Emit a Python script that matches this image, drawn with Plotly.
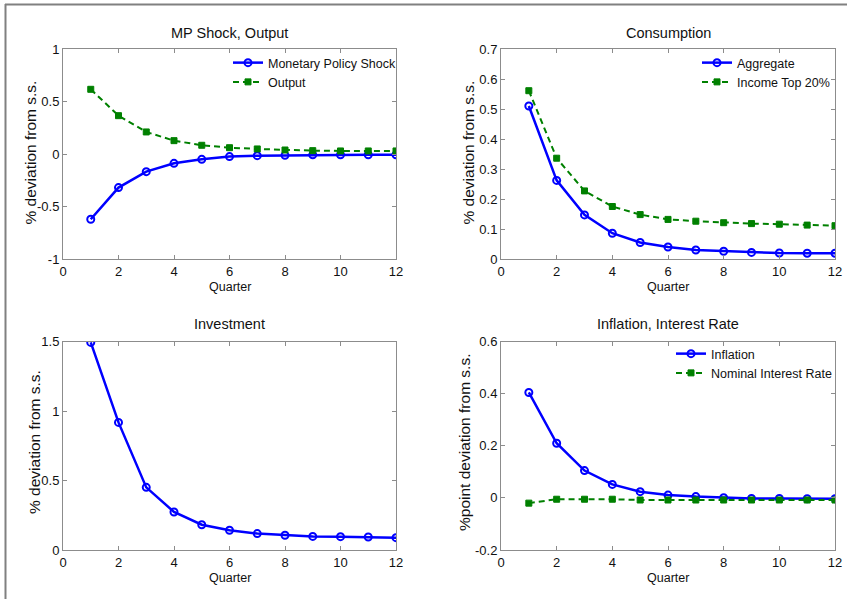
import plotly.graph_objects as go

quarters = list(range(1, 13))

mp_shock = [-0.619, -0.317, -0.165, -0.086, -0.048, -0.022, -0.013, -0.010, -0.005, -0.004, -0.004, -0.004]
output = [0.619, 0.368, 0.213, 0.130, 0.086, 0.063, 0.051, 0.041, 0.035, 0.032, 0.032, 0.032]

cons_agg = [0.511, 0.263, 0.148, 0.087, 0.056, 0.041, 0.031, 0.027, 0.023, 0.021, 0.020, 0.020]
cons_top20 = [0.562, 0.337, 0.228, 0.176, 0.149, 0.133, 0.127, 0.122, 0.119, 0.117, 0.114, 0.112]

investment = [1.495, 0.919, 0.451, 0.274, 0.182, 0.142, 0.118, 0.106, 0.098, 0.096, 0.094, 0.089]

inflation = [0.405, 0.210, 0.105, 0.052, 0.024, 0.011, 0.005, 0.001, -0.002, -0.002, -0.003, -0.003]
interest = [-0.020, -0.005, -0.005, -0.005, -0.008, -0.008, -0.008, -0.008, -0.008, -0.008, -0.008, -0.008]

x_ticks = [0, 2, 4, 6, 8, 10, 12]
y1_ticks = [-1, -0.5, 0, 0.5, 1]
y1_labels = ["-1", "-0.5", "0", "0.5", "1"]
y2_ticks = [0, 0.1, 0.2, 0.3, 0.4, 0.5, 0.6, 0.7]
y2_labels = ["0", "0.1", "0.2", "0.3", "0.4", "0.5", "0.6", "0.7"]
y3_ticks = [0, 0.5, 1, 1.5]
y3_labels = ["0", "0.5", "1", "1.5"]
y4_ticks = [-0.2, 0, 0.2, 0.4, 0.6]
y4_labels = ["-0.2", "0", "0.2", "0.4", "0.6"]

W, H = 847, 599
BLUE = "#0000ff"
GREEN = "#008000"
AXC = "#8c8c8c"
FONT = "Liberation Sans, Arial, sans-serif"
TXT = "#111111"

def px(x):
    return x / W

def py(y):
    return 1 - y / H

fig = go.Figure()

def blue_trace(y, name, xa, ya, legend, show=True):
    fig.add_trace(go.Scatter(
        x=quarters, y=y, name=name, mode="lines+markers",
        line=dict(color=BLUE, width=2.5),
        marker=dict(symbol="circle-open", size=7, color=BLUE, line=dict(width=2, color=BLUE)),
        xaxis=xa, yaxis=ya, legend=legend, showlegend=show))

def green_trace(y, name, xa, ya, legend):
    fig.add_trace(go.Scatter(
        x=quarters, y=y, name=name, mode="lines+markers",
        line=dict(color=GREEN, width=2, dash="6px,4px"),
        marker=dict(symbol="square", size=6, color=GREEN, line=dict(width=1, color=GREEN)),
        xaxis=xa, yaxis=ya, legend=legend))

blue_trace(mp_shock, "Monetary Policy Shock", "x", "y", "legend")
green_trace(output, "Output", "x", "y", "legend")
blue_trace(cons_agg, "Aggregate", "x2", "y2", "legend2")
green_trace(cons_top20, "Income Top 20%", "x2", "y2", "legend2")
blue_trace(investment, "Investment", "x3", "y3", "legend", show=False)
blue_trace(inflation, "Inflation", "x4", "y4", "legend3")
green_trace(interest, "Nominal Interest Rate", "x4", "y4", "legend3")

L1, R1 = 63, 396
L2, R2 = 501, 835
T1, B1 = 49.3, 259.3
T2, B2 = 341.7, 550

left_dom = [px(L1), px(R1)]
right_dom = [px(L2), px(R2)]
top_dom = [py(B1), py(T1)]
bot_dom = [py(B2), py(T2)]

def xaxis(dom, anchor):
    return dict(domain=dom, anchor=anchor, range=[0, 12], tickvals=x_ticks,
                ticktext=[str(v) for v in x_ticks],
                showline=True, linecolor=AXC, linewidth=1, mirror="allticks",
                ticks="inside", ticklen=4, tickcolor=AXC, showgrid=False, zeroline=False,
                tickfont=dict(size=13, color=TXT, family=FONT), automargin=False)

def yaxis(dom, anchor, rng, tv, tt):
    return dict(domain=dom, anchor=anchor, range=rng, tickvals=tv, ticktext=tt,
                showline=True, linecolor=AXC, linewidth=1, mirror="allticks",
                ticks="inside", ticklen=4, tickcolor=AXC, showgrid=False, zeroline=False,
                tickfont=dict(size=13, color=TXT, family=FONT), automargin=False)

leg_common = dict(xanchor="left", yanchor="top", bgcolor="rgba(0,0,0,0)",
                  font=dict(size=12.5, family=FONT, color=TXT), itemwidth=30, tracegroupgap=0)

fig.update_layout(
    width=W, height=H,
    margin=dict(l=0, r=0, t=0, b=0, pad=0, autoexpand=False),
    paper_bgcolor="white", plot_bgcolor="white",
    font=dict(family=FONT, size=13, color=TXT),
    xaxis=xaxis(left_dom, "y"),
    yaxis=yaxis(top_dom, "x", [-1, 1], y1_ticks, y1_labels),
    xaxis2=xaxis(right_dom, "y2"),
    yaxis2=yaxis(top_dom, "x2", [0, 0.7], y2_ticks, y2_labels),
    xaxis3=xaxis(left_dom, "y3"),
    yaxis3=yaxis(bot_dom, "x3", [0, 1.5], y3_ticks, y3_labels),
    xaxis4=xaxis(right_dom, "y4"),
    yaxis4=yaxis(bot_dom, "x4", [-0.2, 0.6], y4_ticks, y4_labels),
    legend=dict(x=px(228), y=py(48), **leg_common),
    legend2=dict(x=px(697), y=py(48), **leg_common),
    legend3=dict(x=px(671), y=py(339), **leg_common),
)

def ann(text, x, y, size, angle=0):
    fig.add_annotation(text=text, x=px(x), y=py(y), xref="paper", yref="paper",
                       showarrow=False, xanchor="center", yanchor="middle", textangle=angle,
                       font=dict(size=size, color=TXT, family=FONT))

# panel titles
ann("MP Shock, Output", (L1 + R1) / 2, 33, 14.5)
ann("Consumption", (L2 + R2) / 2, 33, 14.5)
ann("Investment", (L1 + R1) / 2, 324, 14.5)
ann("Inflation, Interest Rate", (L2 + R2) / 2, 324, 14.5)

# x-axis titles
for cx, cy in [((L1 + R1) / 2, 287), ((L2 + R2) / 2, 287), ((L1 + R1) / 2, 578), ((L2 + R2) / 2, 578)]:
    ann("Quarter", cx, cy, 12.5)

# y-axis titles
ann("% deviation from s.s.", 30, 152.5, 15.5, -90)
ann("% deviation from s.s.", 468, 152.5, 15.5, -90)
ann("% deviation from s.s.", 34, 442, 15.5, -90)
ann("%point deviation from s.s.", 464, 443, 15.5, -90)

# outer frame lines (top and left)
fig.add_shape(type="line", xref="paper", yref="paper", x0=px(5), x1=1, y0=py(4.5), y1=py(4.5),
              line=dict(color="#808080", width=2))
fig.add_shape(type="line", xref="paper", yref="paper", x0=px(5.5), x1=px(5.5), y0=0, y1=py(4),
              line=dict(color="#808080", width=2))

fig.write_html("out.html")
